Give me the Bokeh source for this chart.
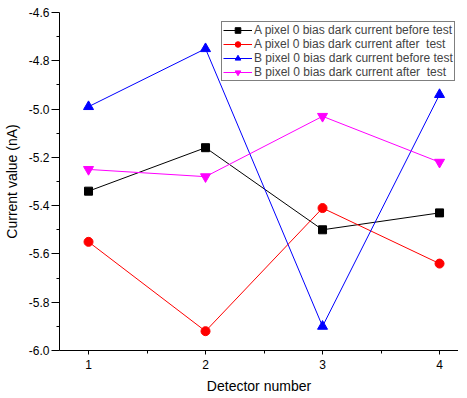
from bokeh.plotting import figure
from bokeh.models import Range1d, FixedTicker, Legend, LegendItem, NumeralTickFormatter
from bokeh.embed import file_html
from bokeh.resources import INLINE

detectors = [1, 2, 3, 4]
a_before = [-5.34, -5.16, -5.50, -5.43]
a_after = [-5.55, -5.92, -5.41, -5.64]
b_before = [-4.99, -4.75, -5.90, -4.94]
b_after = [-5.25, -5.28, -5.03, -5.22]
labels = ["A pixel 0 bias dark current before test",
          "A pixel 0 bias dark current after  test",
          "B pixel 0 bias dark current before test",
          "B pixel 0 bias dark current after  test"]
y_ticks = [-6.0, -5.8, -5.6, -5.4, -5.2, -5.0, -4.8, -4.6]

FONT = "Liberation Sans"

p = figure(frame_width=399, frame_height=338, output_backend="svg", toolbar_location=None,
           x_range=Range1d(0.752, 4.162), y_range=Range1d(-6.0, -4.6),
           min_border_left=52, min_border_right=0, min_border_top=12, min_border_bottom=39)
p.outline_line_color = None
p.grid.visible = False
p.background_fill_color = "white"

series = [
    (a_before, "black", "square", 8),
    (a_after, "red", "circle", 9),
    (b_before, "blue", "triangle", 10),
    (b_after, "magenta", "inverted_triangle", 10),
]
items = []
for (ys, col, mk, sz), lab in zip(series, labels):
    l = p.line(detectors, ys, line_color=col, line_width=1)
    s = p.scatter(detectors, ys, marker=mk, size=sz, fill_color=col, line_color=col)
    items.append(LegendItem(label=lab, renderers=[l, s]))

leg = Legend(items=items, location=(162, 269))
leg.border_line_color = "black"
leg.border_line_width = 1
leg.background_fill_alpha = 1
leg.label_text_font = FONT
leg.label_text_font_size = "12px"
leg.label_standoff = 2
leg.glyph_width = 29
leg.glyph_height = 14
leg.label_height = 14
leg.spacing = 0
leg.padding = 1
leg.margin = 0
p.add_layout(leg, "center")

for ax in (p.xaxis[0], p.yaxis[0]):
    ax.axis_line_color = "black"
    ax.axis_line_width = 1
    ax.major_tick_line_color = "black"
    ax.minor_tick_line_color = "black"
    ax.major_tick_in = 0
    ax.minor_tick_out = 3
    ax.minor_tick_in = 0
    ax.major_label_text_font = FONT
    ax.major_label_text_font_size = "12px"
    ax.major_label_text_color = "black"
    ax.axis_label_text_font = FONT
    ax.axis_label_text_font_size = "14px"
    ax.axis_label_text_font_style = "normal"
    ax.axis_label_text_color = "black"

p.yaxis.major_tick_out = 8
p.xaxis.major_tick_out = 4
p.xaxis.ticker = FixedTicker(ticks=detectors, minor_ticks=[1.5, 2.5, 3.5])
p.yaxis.ticker = FixedTicker(ticks=y_ticks,
                             minor_ticks=[-5.9, -5.7, -5.5, -5.3, -5.1, -4.9, -4.7])
p.yaxis.formatter = NumeralTickFormatter(format="0.0")
p.xaxis.axis_label = "Detector number"
p.yaxis.axis_label = "Current value (nA)"
p.xaxis.major_label_standoff = 5
p.xaxis.axis_label_standoff = 6
p.yaxis.major_label_standoff = 2
p.yaxis.axis_label_standoff = 6

open("out.html", "w").write(file_html(p, INLINE))
